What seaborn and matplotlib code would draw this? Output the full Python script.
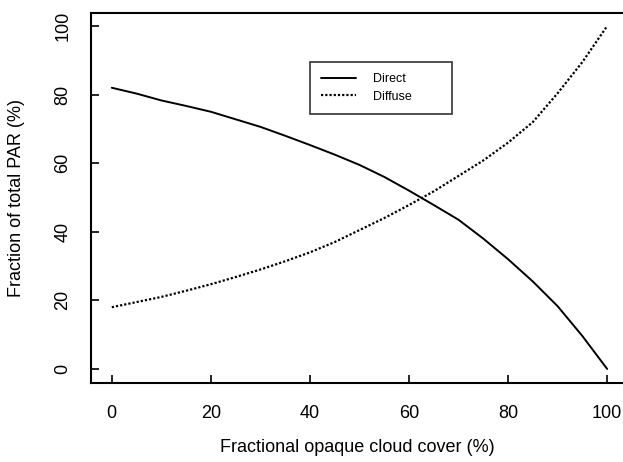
import matplotlib
matplotlib.use("Agg")
import matplotlib.pyplot as plt
import seaborn as sns
import pandas as pd

cloud_cover = [0, 5, 10, 15, 20, 25, 30, 35, 40, 45, 50,
               55, 60, 65, 70, 75, 80, 85, 90, 95, 100]
direct = [82, 80.3, 78.3, 76.7, 75, 72.8, 70.6, 68, 65.3, 62.5, 59.5,
          56, 52, 47.8, 43.5, 38, 32, 25.5, 18.3, 9.6, 0]
diffuse = [18, 19.5, 21, 22.8, 24.7, 26.8, 29, 31.4, 34, 37, 40.5,
           44, 47.8, 51.8, 56.3, 60.8, 66, 72, 80.4, 89.5, 100]
x_ticks = [0, 20, 40, 60, 80, 100]
y_ticks = [0, 20, 40, 60, 80, 100]

sns.set_style("ticks")
plt.rcParams["font.family"] = ["Liberation Sans", "DejaVu Sans"]
plt.rcParams["text.color"] = "black"
plt.rcParams["axes.labelcolor"] = "black"

fig = plt.figure(figsize=(6.23, 4.62), dpi=100)
ax = fig.add_axes([91 / 623, 1 - 383 / 462, 1 - 91 / 623, 370 / 462])

df = pd.DataFrame({
    "cover": cloud_cover + cloud_cover,
    "frac": direct + diffuse,
    "component": ["Direct"] * len(cloud_cover) + ["Diffuse"] * len(cloud_cover),
})

sns.lineplot(data=df[df.component == "Direct"], x="cover", y="frac", ax=ax,
             color="black", lw=1.4, label="Direct")
sns.lineplot(data=df[df.component == "Diffuse"], x="cover", y="frac", ax=ax,
             color="black", lw=1.6, linestyle=(0, (1.0, 0.9)), label="Diffuse")

ax.set_xlim(-4.2, 103.2)
ax.set_ylim(-4.1, 103.8)
ax.set_xticks(x_ticks)
ax.set_yticks(y_ticks)

for s in ["left", "bottom", "top"]:
    ax.spines[s].set_visible(True)
    ax.spines[s].set_linewidth(1.5)
    ax.spines[s].set_color("black")
ax.spines["right"].set_visible(False)

ax.tick_params(axis="both", direction="in", length=6, width=1.2, colors="black",
               labelsize=13, labelcolor="black")
ax.tick_params(axis="x", pad=16)
ax.tick_params(axis="y", pad=14, labelrotation=90)
for lbl in ax.get_yticklabels():
    lbl.set_va("center")

ax.set_xlabel("Fractional opaque cloud cover (%)", fontsize=13, labelpad=12,
              color="black")
ax.set_ylabel("Fraction of total PAR (%)", fontsize=13, labelpad=21,
              color="black")

leg = ax.legend(loc="upper left", bbox_to_anchor=(0.412, 0.73, 0.267, 0.138),
                mode="expand", borderaxespad=0,
                frameon=True, fancybox=False, shadow=False, fontsize=9,
                handlelength=2.8, handletextpad=1.35, borderpad=0.9,
                labelspacing=0.45)
leg.get_frame().set_edgecolor("black")
leg.get_frame().set_linewidth(1.2)
for t in leg.get_texts():
    t.set_color("black")

fig.savefig("out.png", dpi=100)
